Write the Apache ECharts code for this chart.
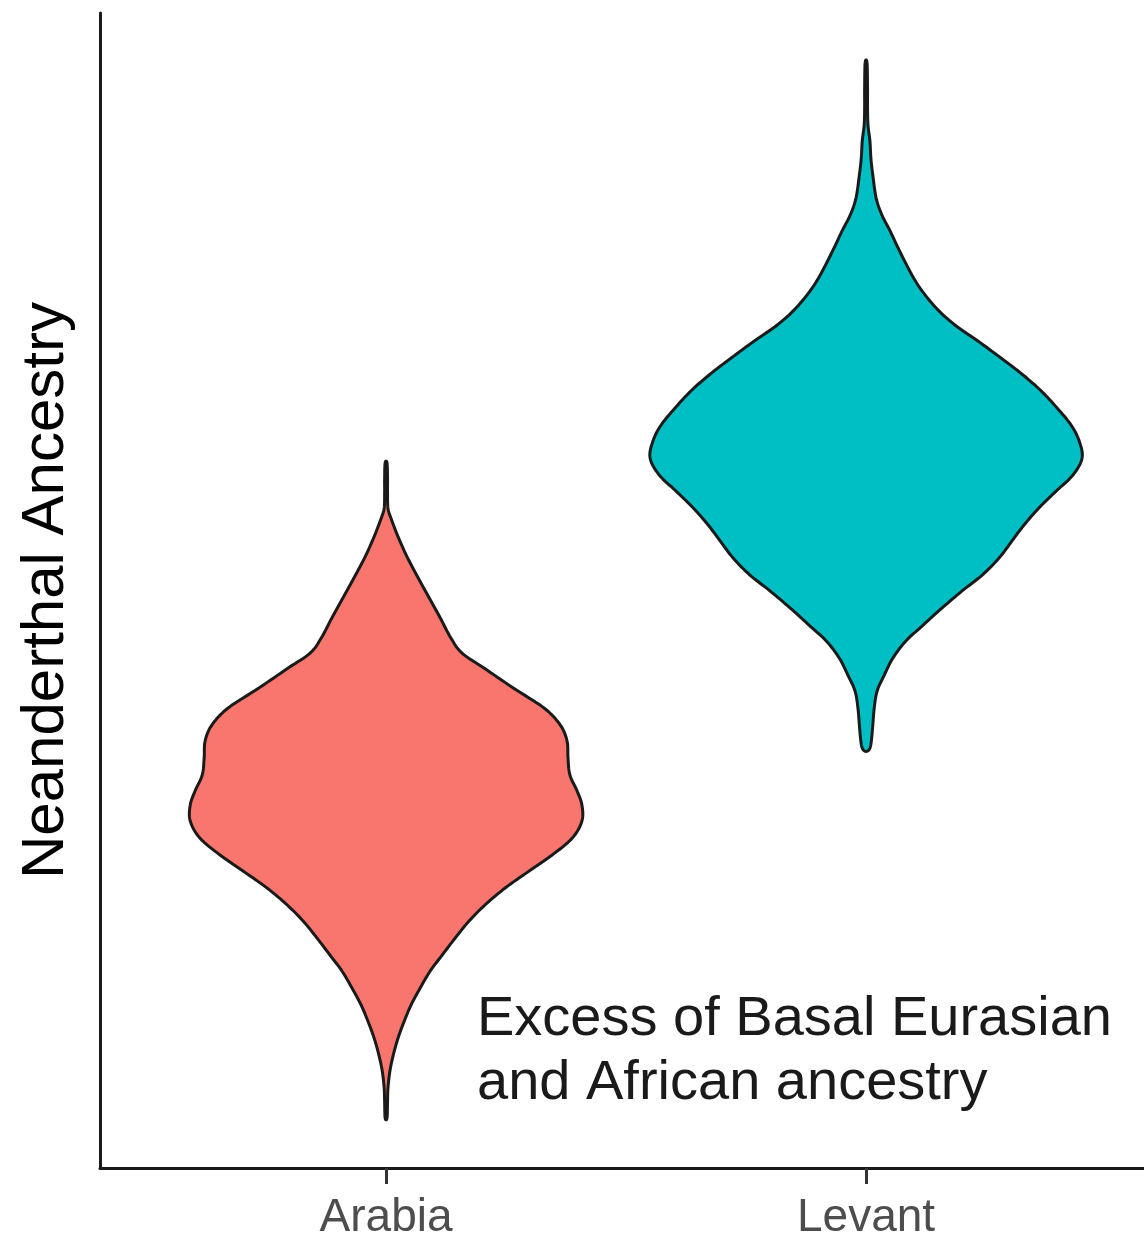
<!DOCTYPE html>
<html>
<head>
<meta charset="utf-8">
<script src="https://cdn.jsdelivr.net/npm/echarts@6/dist/echarts.min.js"></script>
<style>
html,body{margin:0;padding:0;background:#fff;}
#chart{width:1144px;height:1241px;}
</style>
</head>
<body>
<div id="chart"></div>
<script>
// ---- data ----
const categories = ['Arabia', 'Levant'];
// Neanderthal ancestry level (arbitrary units) along each violin, top to bottom
const arabiaY = [61.04, 59.74, 58.44, 57.14, 56.28, 54.55, 52.81, 51.08, 49.35, 47.62, 45.89, 44.59, 43.29, 41.56, 39.83, 38.35, 36.97, 35.50, 34.03, 32.64, 31.43, 30.04, 28.57, 27.10, 25.71, 24.24, 22.77, 21.39, 19.91, 18.44, 17.06, 15.58, 14.11, 12.73, 11.26, 9.78, 8.40, 6.93, 5.63, 4.33];
// violin half-width (density, in category units)
const arabiaHalfWidth = [0.002, 0.003, 0.003, 0.004, 0.010, 0.026, 0.045, 0.067, 0.090, 0.113, 0.135, 0.158, 0.204, 0.265, 0.329, 0.363, 0.377, 0.379, 0.383, 0.398, 0.408, 0.408, 0.388, 0.346, 0.298, 0.248, 0.206, 0.173, 0.144, 0.117, 0.092, 0.071, 0.052, 0.038, 0.025, 0.015, 0.008, 0.004, 0.003, 0.002];
const levantY = [95.67, 93.51, 91.77, 90.30, 88.92, 87.45, 85.97, 83.98, 82.51, 81.13, 78.79, 76.45, 74.46, 72.99, 71.60, 70.13, 68.66, 67.27, 65.80, 64.33, 62.94, 61.47, 60.00, 58.61, 57.14, 55.67, 54.29, 52.81, 51.34, 49.96, 48.48, 47.01, 45.63, 44.16, 42.68, 41.30, 39.83, 38.35, 36.97, 36.36, 36.10];
const levantHalfWidth = [0.002, 0.003, 0.003, 0.004, 0.008, 0.010, 0.014, 0.021, 0.033, 0.050, 0.077, 0.108, 0.146, 0.185, 0.233, 0.281, 0.327, 0.365, 0.398, 0.427, 0.444, 0.450, 0.431, 0.396, 0.360, 0.329, 0.304, 0.277, 0.242, 0.200, 0.158, 0.119, 0.083, 0.056, 0.038, 0.023, 0.017, 0.014, 0.011, 0.008, 0.003];
const yAxisTitle = 'Neanderthal Ancestry';
const annotationText = 'Excess of Basal Eurasian\nand African ancestry';

const violinY = [arabiaY, levantY];
const violinW = [arabiaHalfWidth, levantHalfWidth];
const groupColors = ['#F8766D', '#00BFC4'];
const catPos = categories.map((c, i) => i + 1);

// Catmull-Rom smoothing of a closed outline (rendering only)
function smoothLoop(pts, steps) {
  const out = [], N = pts.length;
  for (let i = 0; i < N; i++) {
    const p0 = pts[(i - 1 + N) % N], p1 = pts[i], p2 = pts[(i + 1) % N], p3 = pts[(i + 2) % N];
    for (let s = 0; s < steps; s++) {
      const t = s / steps, t2 = t * t, t3 = t2 * t;
      const f = k => 0.5 * (2 * p1[k] + (-p0[k] + p2[k]) * t + (2 * p0[k] - 5 * p1[k] + 4 * p2[k] - p3[k]) * t2 + (-p0[k] + 3 * p1[k] - 3 * p2[k] + p3[k]) * t3);
      out.push([f(0), f(1)]);
    }
  }
  return out;
}

const chart = echarts.init(document.getElementById('chart'), null, {renderer: 'canvas'});
const font = '"Liberation Sans", Arial, Helvetica, sans-serif';

chart.setOption({
  animation: false,
  backgroundColor: '#ffffff',
  grid: {left: 100, right: 0, top: 13, bottom: 70, containLabel: false},
  xAxis: {
    type: 'value',
    min: 0.404,
    max: 2.579,
    splitLine: {show: false},
    axisLine: {show: true, onZero: false, lineStyle: {color: '#1a1a1a', width: 3}},
    axisTick: {show: true, customValues: catPos, length: 16, lineStyle: {color: '#333333', width: 3}},
    axisLabel: {
      show: true, customValues: catPos, margin: 27,
      formatter: v => categories[Math.round(v) - 1] || '',
      color: '#4D4D4D', fontSize: 46, fontFamily: font
    }
  },
  yAxis: {
    type: 'value',
    min: 0,
    max: 100,
    name: yAxisTitle,
    nameLocation: 'middle',
    nameGap: 24,
    nameTextStyle: {color: '#000000', fontSize: 60, fontFamily: font},
    splitLine: {show: false},
    axisTick: {show: false},
    axisLabel: {show: false},
    axisLine: {show: true, onZero: false, lineStyle: {color: '#1a1a1a', width: 3}}
  },
  series: [{
    type: 'custom',
    data: catPos.map(p => [p, 0]),
    encode: {x: 0, y: 1},
    renderItem: function (params, api) {
      const i = params.dataIndex;
      const ys = violinY[i], ws = violinW[i], cx = catPos[i];
      const pts = [];
      for (let k = 0; k < ys.length; k++) pts.push(api.coord([cx - ws[k], ys[k]]));
      for (let k = ys.length - 1; k >= 0; k--) pts.push(api.coord([cx + ws[k], ys[k]]));
      return {
        type: 'polygon',
        shape: {points: smoothLoop(pts, 8)},
        style: {fill: groupColors[i], stroke: '#1a1a1a', lineWidth: 3, lineJoin: 'round'}
      };
    }
  }],
  graphic: [{
    type: 'text',
    left: 477,
    top: 988,
    style: {
      text: annotationText,
      fontSize: 56,
      lineHeight: 64,
      fontFamily: font,
      fill: '#1a1a1a'
    }
  }]
});
</script>
</body>
</html>
